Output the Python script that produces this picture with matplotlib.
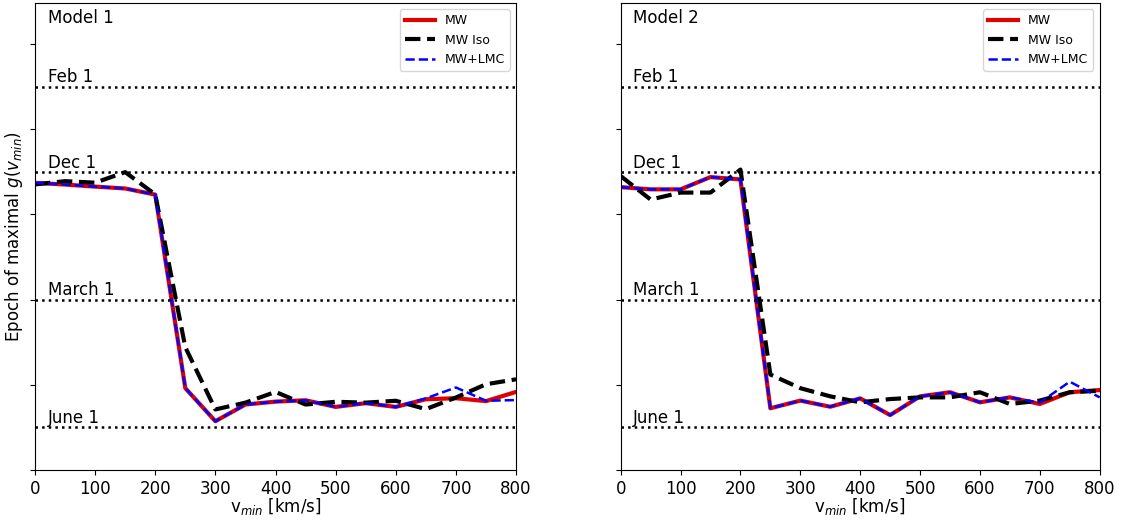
import matplotlib
matplotlib.use("Agg")
import matplotlib.pyplot as plt

# v_min grid [km/s]
vmin = [0, 50, 100, 150, 200, 250, 300, 350, 400, 450, 500, 550, 600, 650, 700, 750, 800]

# epoch of maximum (arbitrary axis units)
m1_mw = [168.5, 167.5, 166.3, 165.2, 161.6, 48.0, 28.6, 38.4, 40.1, 40.9, 37.0, 39.2, 37.0, 41.5, 42.1, 40.4, 45.8]
m1_iso = [167.6, 169.5, 168.6, 174.8, 161.7, 72.0, 35.5, 39.5, 45.8, 38.4, 40.0, 39.5, 40.6, 35.7, 42.5, 50.3, 53.2]
m1_lmc = [168.5, 167.5, 166.3, 165.2, 161.6, 48.0, 28.6, 38.4, 40.1, 40.9, 37.0, 39.2, 37.0, 42.0, 48.4, 40.6, 41.0]

m2_mw = [166.0, 164.7, 164.7, 171.9, 170.5, 36.2, 40.7, 37.1, 42.0, 32.2, 43.2, 45.6, 39.7, 42.6, 38.7, 45.6, 46.9]
m2_iso = [172.5, 158.7, 162.8, 162.8, 176.3, 56.0, 48.0, 43.2, 39.7, 41.6, 42.6, 42.6, 45.6, 38.7, 40.7, 45.6, 46.5]
m2_lmc = [166.0, 164.7, 164.7, 171.9, 170.5, 36.2, 40.7, 37.1, 42.0, 32.2, 43.2, 45.6, 39.7, 42.6, 39.5, 51.8, 42.6]

# reference dates
date_names = ["Feb 1", "Dec 1", "March 1", "June 1"]
date_pos = [225, 175, 100, 25]

models = ["Model 1", "Model 2"]

fig = plt.figure(figsize=(11.25, 5.21), dpi=100)
ax1 = fig.add_axes([0.0311, 0.098, 0.4276, 0.896])
ax2 = fig.add_axes([0.5517, 0.098, 0.4258, 0.896])

panels = [(ax1, m1_mw, m1_iso, m1_lmc), (ax2, m2_mw, m2_iso, m2_lmc)]

for i, (ax, mw, iso, lmc) in enumerate(panels):
    ax.plot(vmin, mw, color="#e00000", lw=3, label="MW")
    ax.plot(vmin, iso, "k--", lw=3, label="MW Iso")
    ax.plot(vmin, lmc, "b--", lw=1.8, label="MW+LMC")

    for name, y in zip(date_names, date_pos):
        ax.axhline(y, color="k", ls=":", lw=1.8)
        ax.text(21, y + 2.5, name, fontsize=12, va="baseline")

    ax.text(21, 265, models[i], fontsize=12, va="center")

    ax.set_xlim(0, 800)
    ax.set_ylim(0, 274)
    ax.set_xticks(range(0, 801, 100))
    ax.set_yticks(range(0, 251, 50))
    ax.set_yticklabels([])
    ax.tick_params(labelsize=12)
    ax.set_xlabel(r"v$_{min}$ [km/s]", fontsize=12, labelpad=-1)
    ax.legend(loc="upper right", fontsize=9, handlelength=2.4)

ax1.set_ylabel(r"Epoch of maximal $g(v_{min})$", fontsize=12)
ax1.yaxis.set_label_coords(-0.02, 0.5)

fig.savefig("out.png", dpi=100)
